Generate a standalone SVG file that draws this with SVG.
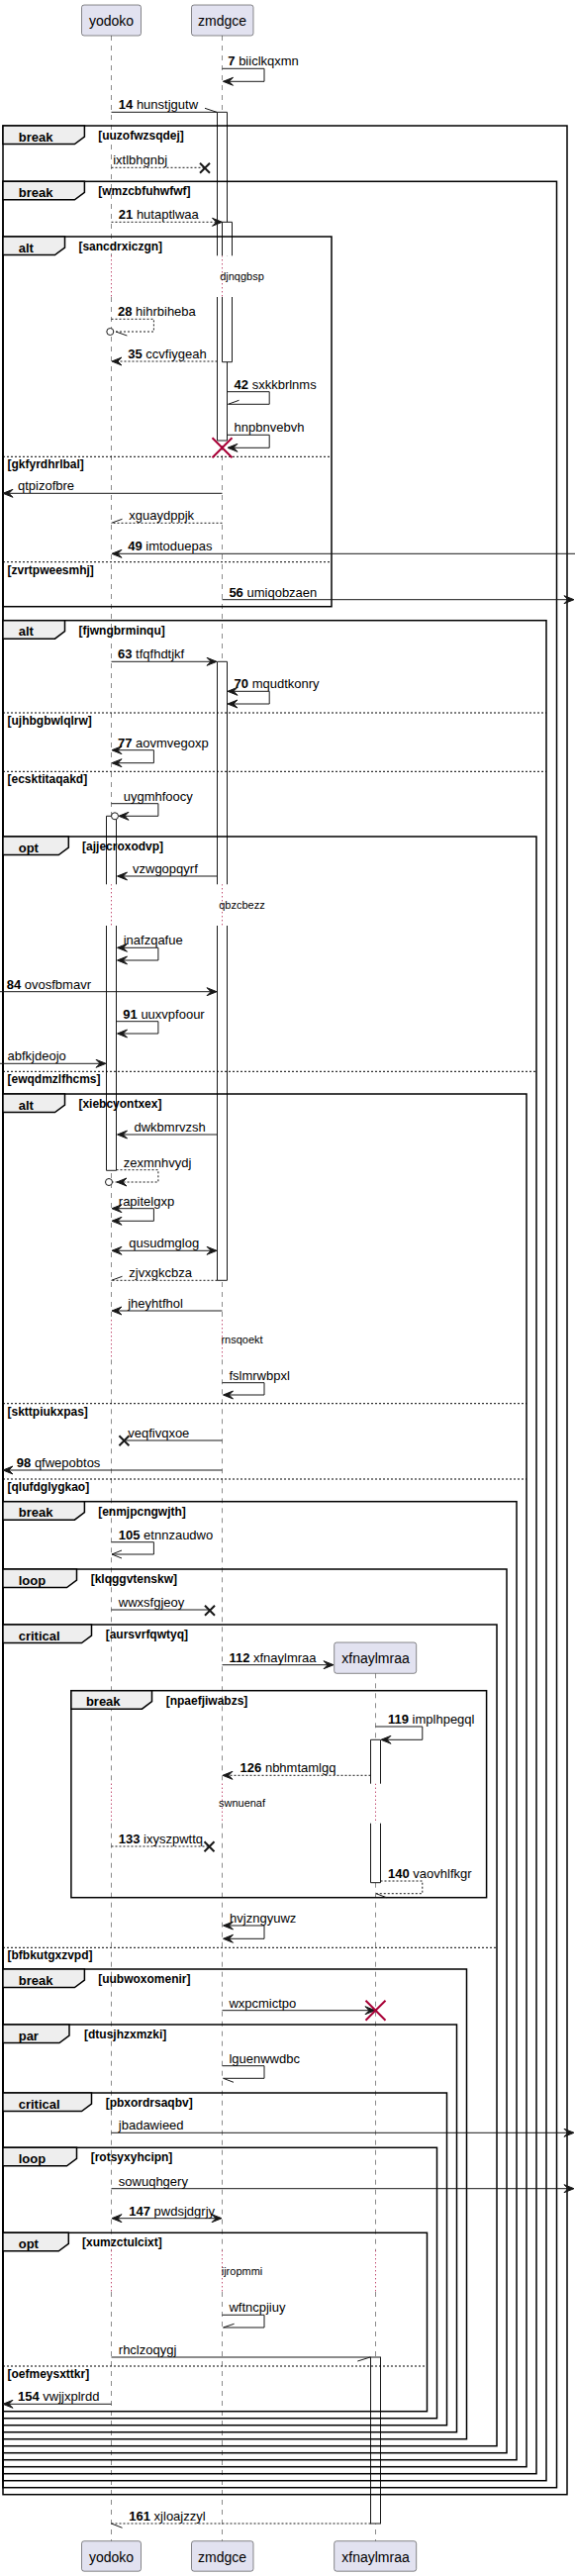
<svg xmlns="http://www.w3.org/2000/svg" width="581" height="2602" viewBox="0 0 581 2602">
<style>
text{font-family:"Liberation Sans",Arial,sans-serif;fill:#000}
.pt{font-size:14px}
.m{font-size:13px}
.lb{font-size:13px;font-weight:bold}
.cd{font-size:12px;font-weight:bold}
.dt{font-size:11px}
.pbox{fill:#E2E2F0;stroke:#181818;stroke-width:0.5}
.ll{stroke:#181818;stroke-width:0.5;stroke-dasharray:5,5;fill:none}
.dl{stroke:#A80036;stroke-width:1;stroke-dasharray:1,3;fill:none}
.af{fill:#fff;stroke:none}
.ae{fill:none;stroke:#181818;stroke-width:1}
.ab{fill:#fff;stroke:#181818;stroke-width:1}
.frm{fill:none;stroke:#000;stroke-width:1.5}
.tab{fill:#EEEEEE;stroke:#000;stroke-width:1.5}
.sep{stroke:#000;stroke-width:1;stroke-dasharray:2,2;fill:none}
.ln{stroke:#181818;stroke-width:1;fill:none}
.ds{stroke-dasharray:2,2}
.ah{fill:#181818;stroke:#181818;stroke-width:1}
.hl{stroke:#181818;stroke-width:1;fill:none}
.xb{stroke:#181818;stroke-width:2;fill:none}
.xr{stroke:#A80036;stroke-width:2;fill:none}
</style>
<defs>
<polygon id="aR" class="ah" points="0,0 -10,-4 -6,0 -10,4"/>
<polygon id="aL" class="ah" points="0,0 10,-4 6,0 10,4"/>
<polyline id="oL" class="hl" points="10,-4 0,0 10,4"/>
<path id="xB" class="xb" d="M-5,-5 L5,5 M-5,5 L5,-5"/>
<path id="xR" class="xr" d="M-10,-10 L10,10 M-10,10 L10,-10"/>
<circle id="ci" r="3.5" fill="#fff" stroke="#181818" stroke-width="1"/>
</defs>

<g id="lifelines">
<path class="ll" d="M112.5,36 V258.3 M112.5,300 V893.3 M112.5,935 V1333.3 M112.5,1373.3 V1801.7 M112.5,1841.7 V2273.3 M112.5,2315 V2566.7"/>
<path class="ll" d="M224.5,36 V258.3 M224.5,300 V893.3 M224.5,935 V1333.3 M224.5,1373.3 V1801.7 M224.5,1841.7 V2273.3 M224.5,2315 V2566.7"/>
<path class="ll" d="M379.5,1690.3 V1801.7 M379.5,1841.7 V2273.3 M379.5,2315 V2566.7"/>
<path class="dl" d="M112.5,258.3 V300 M224.5,258.3 V300 M112.5,893.3 V935 M224.5,893.3 V935 M112.5,1333.3 V1373.3 M224.5,1333.3 V1373.3 M112.5,1801.7 V1841.7 M224.5,1801.7 V1841.7 M379.5,1801.7 V1841.7 M112.5,2273.3 V2315 M224.5,2273.3 V2315 M379.5,2273.3 V2315"/>
</g>

<g id="activations">
<rect class="af" x="219.5" y="113.3" width="10" height="145"/><path class="ae" d="M219.5,258.3 V113.3 H229.5 V258.3"/>
<rect class="af" x="219.5" y="300" width="10" height="145"/><path class="ae" d="M219.5,300 V445 H229.5 V300"/>
<rect class="af" x="224.5" y="224.3" width="10" height="34"/><path class="ae" d="M224.5,258.3 V224.3 H234.5 V258.3"/>
<rect class="af" x="224.5" y="300" width="10" height="65.7"/><path class="ae" d="M224.5,300 V365.7 H234.5 V300"/>
<rect class="af" x="219.5" y="668.3" width="10" height="225"/><path class="ae" d="M219.5,893.3 V668.3 H229.5 V893.3"/>
<rect class="af" x="219.5" y="935" width="10" height="358.3"/><path class="ae" d="M219.5,935 V1293.3 H229.5 V935"/>
<rect class="af" x="107.5" y="824.3" width="10" height="69"/><path class="ae" d="M107.5,893.3 V824.3 H117.5 V893.3"/>
<rect class="af" x="107.5" y="935" width="10" height="247.3"/><path class="ae" d="M107.5,935 V1182.3 H117.5 V935"/>
<rect class="af" x="374.5" y="1757.3" width="10" height="44.4"/><path class="ae" d="M374.5,1801.7 V1757.3 H384.5 V1801.7"/>
<rect class="af" x="374.5" y="1841.7" width="10" height="60"/><path class="ae" d="M374.5,1841.7 V1901.7 H384.5 V1841.7"/>
<rect class="ab" x="374.5" y="2381" width="10" height="168"/>
</g>

<g id="participants">
<g id="p-yodoko-top"><rect class="pbox" x="82.5" y="5" width="60" height="31" rx="2.5"/><text class="pt" x="112.5" y="26" text-anchor="middle">yodoko</text></g>
<g id="p-zmdgce-top"><rect class="pbox" x="193.5" y="5" width="62.5" height="31" rx="2.5"/><text class="pt" x="224.5" y="26" text-anchor="middle">zmdgce</text></g>
<g id="p-xfnaylmraa"><rect class="pbox" x="337.7" y="1659" width="83" height="31.3" rx="2.5"/><text class="pt" x="379.5" y="1680" text-anchor="middle">xfnaylmraa</text></g>
<g id="p-yodoko-bot"><rect class="pbox" x="82.5" y="2566.7" width="60" height="30.5" rx="2.5"/><text class="pt" x="112.5" y="2587.5" text-anchor="middle">yodoko</text></g>
<g id="p-zmdgce-bot"><rect class="pbox" x="193.5" y="2566.7" width="62.5" height="30.5" rx="2.5"/><text class="pt" x="224.5" y="2587.5" text-anchor="middle">zmdgce</text></g>
<g id="p-xfnaylmraa-bot"><rect class="pbox" x="337.7" y="2566.7" width="83" height="30.5" rx="2.5"/><text class="pt" x="379.5" y="2587.5" text-anchor="middle">xfnaylmraa</text></g>
</g>

<g id="frames">
<g id="f1"><rect class="frm" x="3" y="127" width="570" height="2392.7"/><polygon class="tab" points="3,127 85.4,127 85.4,138 75.4,145.5 3,145.5"/><text class="lb" x="18.7" y="142.5">break</text><text class="cd" x="99.2" y="141">[uuzofwzsqdej]</text></g>
<g id="f2"><rect class="frm" x="3" y="183.3" width="559.5" height="2329.4"/><polygon class="tab" points="3,183.3 85.4,183.3 85.4,194.3 75.4,201.8 3,201.8"/><text class="lb" x="18.7" y="198.8">break</text><text class="cd" x="99.2" y="197.3">[wmzcbfuhwfwf]</text></g>
<g id="f3"><rect class="frm" x="3" y="239" width="332" height="373.7"/><polygon class="tab" points="3,239 65.5,239 65.5,250 55.5,257.5 3,257.5"/><text class="lb" x="18.7" y="254.5">alt</text><text class="cd" x="79.4" y="253">[sancdrxiczgn]</text>
<line class="sep" x1="3" y1="461.3" x2="335" y2="461.3"/><text class="cd" x="7.5" y="473.3">[gkfyrdhrlbal]</text>
<line class="sep" x1="3" y1="567.7" x2="335" y2="567.7"/><text class="cd" x="7.5" y="579.7">[zvrtpweesmhj]</text></g>
<g id="f4"><rect class="frm" x="3" y="626.7" width="549" height="1879"/><polygon class="tab" points="3,626.7 65.5,626.7 65.5,637.7 55.5,645.2 3,645.2"/><text class="lb" x="18.7" y="642.2">alt</text><text class="cd" x="79.4" y="640.7">[fjwngbrminqu]</text>
<line class="sep" x1="3" y1="720" x2="552" y2="720"/><text class="cd" x="7.5" y="732">[ujhbgbwlqlrw]</text>
<line class="sep" x1="3" y1="779.3" x2="552" y2="779.3"/><text class="cd" x="7.5" y="791.3">[ecsktitaqakd]</text></g>
<g id="f5"><rect class="frm" x="3" y="845" width="539" height="1653.7"/><polygon class="tab" points="3,845 69.3,845 69.3,856 59.3,863.5 3,863.5"/><text class="lb" x="18.7" y="860.5">opt</text><text class="cd" x="83.1" y="859">[ajjecroxodvp]</text>
<line class="sep" x1="3" y1="1082.3" x2="542" y2="1082.3"/><text class="cd" x="7.5" y="1094.3">[ewqdmzlfhcms]</text></g>
<g id="f6"><rect class="frm" x="3" y="1105" width="529" height="1386.7"/><polygon class="tab" points="3,1105 65.5,1105 65.5,1116 55.5,1123.5 3,1123.5"/><text class="lb" x="18.7" y="1120.5">alt</text><text class="cd" x="79.4" y="1119">[xiebcyontxex]</text>
<line class="sep" x1="3" y1="1417.7" x2="532" y2="1417.7"/><text class="cd" x="7.5" y="1429.7">[skttpiukxpas]</text>
<line class="sep" x1="3" y1="1494" x2="532" y2="1494"/><text class="cd" x="7.5" y="1506">[qlufdglygkao]</text></g>
<g id="f7"><rect class="frm" x="3" y="1516.7" width="519" height="968"/><polygon class="tab" points="3,1516.7 85.4,1516.7 85.4,1527.7 75.4,1535.2 3,1535.2"/><text class="lb" x="18.7" y="1532.2">break</text><text class="cd" x="99.2" y="1530.7">[enmjpcngwjth]</text></g>
<g id="f8"><rect class="frm" x="3" y="1585" width="509" height="892.7"/><polygon class="tab" points="3,1585 77.5,1585 77.5,1596 67.5,1603.5 3,1603.5"/><text class="lb" x="18.7" y="1600.5">loop</text><text class="cd" x="91.7" y="1599">[klqggvtenskw]</text></g>
<g id="f9"><rect class="frm" x="3" y="1641" width="499" height="829.7"/><polygon class="tab" points="3,1641 92.5,1641 92.5,1652 82.5,1659.5 3,1659.5"/><text class="lb" x="18.7" y="1656.5">critical</text><text class="cd" x="106.7" y="1655">[aursvrfqwtyq]</text>
<line class="sep" x1="3" y1="1967.3" x2="502" y2="1967.3"/><text class="cd" x="7.5" y="1979.3">[bfbkutgxzvpd]</text></g>
<g id="f10"><rect class="frm" x="71.9" y="1707.7" width="419.7" height="209"/><polygon class="tab" points="71.9,1707.7 153.5,1707.7 153.5,1718.7 143.5,1726.2 71.9,1726.2"/><text class="lb" x="86.9" y="1723.2">break</text><text class="cd" x="167.7" y="1721.7">[npaefjiwabzs]</text></g>
<g id="f11"><rect class="frm" x="3" y="1989" width="468.5" height="474.7"/><polygon class="tab" points="3,1989 85.4,1989 85.4,2000 75.4,2007.5 3,2007.5"/><text class="lb" x="18.7" y="2004.5">break</text><text class="cd" x="99.2" y="2003">[uubwoxomenir]</text></g>
<g id="f12"><rect class="frm" x="3" y="2045" width="458.5" height="411.7"/><polygon class="tab" points="3,2045 70,2045 70,2056 60,2063.5 3,2063.5"/><text class="lb" x="18.7" y="2060.5">par</text><text class="cd" x="85" y="2059">[dtusjhzxmzki]</text></g>
<g id="f13"><rect class="frm" x="3" y="2114" width="448.5" height="335.7"/><polygon class="tab" points="3,2114 92.5,2114 92.5,2125 82.5,2132.5 3,2132.5"/><text class="lb" x="18.7" y="2129.5">critical</text><text class="cd" x="106.7" y="2128">[pbxordrsaqbv]</text></g>
<g id="f14"><rect class="frm" x="3" y="2169.3" width="438.5" height="273.4"/><polygon class="tab" points="3,2169.3 77.5,2169.3 77.5,2180.3 67.5,2187.8 3,2187.8"/><text class="lb" x="18.7" y="2184.8">loop</text><text class="cd" x="91.7" y="2183.3">[rotsyxyhcipn]</text></g>
<g id="f15"><rect class="frm" x="3" y="2255.3" width="428.5" height="180.4"/><polygon class="tab" points="3,2255.3 69.3,2255.3 69.3,2266.3 59.3,2273.8 3,2273.8"/><text class="lb" x="18.7" y="2270.8">opt</text><text class="cd" x="83.1" y="2269.3">[xumzctulcixt]</text>
<line class="sep" x1="3" y1="2390" x2="431.5" y2="2390"/><text class="cd" x="7.5" y="2402">[oefmeysxttkr]</text></g>
</g>

<g id="delays">
<text class="dt" x="244.5" y="282.7" text-anchor="middle">djnqgbsp</text>
<text class="dt" x="244.5" y="917.7" text-anchor="middle">qbzcbezz</text>
<text class="dt" x="244.5" y="1356.8" text-anchor="middle">rnsqoekt</text>
<text class="dt" x="244.5" y="1825.2" text-anchor="middle">swnuenaf</text>
<text class="dt" x="244.5" y="2297.7" text-anchor="middle">ijropmmi</text>
</g>

<g id="connectors">
<path class="ln" d="M224.5,69.3 H267 V82.3 H225.5"/><use href="#aL" x="225.5" y="82.3"/>
<line class="ln" x1="112.5" y1="113.3" x2="219.5" y2="113.3"/><line class="hl" x1="219" y1="113.3" x2="207" y2="109.3"/>
<line class="ln ds" x1="112.5" y1="169.3" x2="207" y2="169.3"/><use href="#xB" x="207" y="169.8"/>
<line class="ln ds" x1="112.5" y1="224.3" x2="224" y2="224.3"/><use href="#aR" x="224.5" y="224.3"/>
<path class="ln ds" d="M112.5,322.3 H155.4 V335 H115"/><line class="hl" x1="117" y1="335" x2="128.4" y2="339"/><use href="#ci" x="111.3" y="335"/>
<line class="ln ds" x1="219.5" y1="365" x2="114" y2="365"/><use href="#aL" x="113" y="365"/>
<path class="ln" d="M229.5,395.7 H272.2 V408.3 H230.5"/><line class="hl" x1="230.5" y1="408.3" x2="241.5" y2="404.3"/>
<path class="ln" d="M229.5,439.3 H272.2 V452.3 H231"/><use href="#aL" x="230" y="452.3"/>
<use href="#xR" x="224.5" y="452.3"/>
<line class="ln" x1="224.5" y1="498.3" x2="4" y2="498.3"/><use href="#aL" x="3" y="498.3"/>
<line class="ln ds" x1="224.5" y1="528.3" x2="112.5" y2="528.3"/><line class="hl" x1="112.5" y1="528.3" x2="123.5" y2="524.3"/>
<line class="ln" x1="581" y1="559.3" x2="114" y2="559.3"/><use href="#aL" x="113" y="559.3"/>
<line class="ln" x1="224.5" y1="605.7" x2="579" y2="605.7"/><use href="#aR" x="580" y="605.7"/>
<line class="ln" x1="112.5" y1="668.3" x2="218" y2="668.3"/><use href="#aR" x="219" y="668.3"/>
<path class="ln" d="M231,698.3 H272.2 V711 H231"/><use href="#aL" x="230" y="698.3"/><use href="#aL" x="230" y="711"/>
<path class="ln" d="M114,757.7 H155.4 V770.7 H114"/><use href="#aL" x="113" y="757.7"/><use href="#aL" x="113" y="770.7"/>
<path class="ln" d="M112.5,811.7 H159.9 V824.3 H121"/><use href="#aL" x="120" y="824.3"/><use href="#ci" x="116" y="824.3"/>
<line class="ln" x1="219.5" y1="885" x2="119.5" y2="885"/><use href="#aL" x="118.5" y="885"/>
<path class="ln" d="M119.5,957.3 H159.9 V970 H119.5"/><use href="#aL" x="118.5" y="957.3"/><use href="#aL" x="118.5" y="970"/>
<line class="ln" x1="0" y1="1001.7" x2="218" y2="1001.7"/><use href="#aR" x="219" y="1001.7"/>
<path class="ln" d="M117.5,1031.7 H159.9 V1044 H119.5"/><use href="#aL" x="118.5" y="1044"/>
<line class="ln" x1="0" y1="1074.3" x2="106" y2="1074.3"/><use href="#aR" x="107" y="1074.3"/>
<line class="ln" x1="219.5" y1="1146" x2="119.5" y2="1146"/><use href="#aL" x="118.5" y="1146"/>
<path class="ln ds" d="M117.5,1181.7 H159.9 V1194 H113.5"/><use href="#aL" x="118" y="1194"/><use href="#ci" x="110" y="1194"/>
<path class="ln" d="M114,1220.7 H155.4 V1233.3 H114"/><use href="#aL" x="113" y="1220.7"/><use href="#aL" x="113" y="1233.3"/>
<line class="ln" x1="114" y1="1263.3" x2="218" y2="1263.3"/><use href="#aL" x="113" y="1263.3"/><use href="#aR" x="219" y="1263.3"/>
<line class="ln ds" x1="219.5" y1="1293.3" x2="112.5" y2="1293.3"/><line class="hl" x1="112.5" y1="1293.3" x2="123.5" y2="1289.3"/>
<line class="ln" x1="224.5" y1="1324" x2="114" y2="1324"/><use href="#aL" x="113" y="1324"/>
<path class="ln" d="M224.5,1396.7 H267 V1409 H226.5"/><use href="#aL" x="225.5" y="1409"/>
<line class="ln" x1="224.5" y1="1455" x2="125.5" y2="1455"/><use href="#xB" x="125.4" y="1455.3"/>
<line class="ln" x1="224.5" y1="1485" x2="4" y2="1485"/><use href="#aL" x="3" y="1485"/>
<path class="ln" d="M112.5,1557.7 H155.4 V1570 H113"/><use href="#oL" x="113" y="1570"/>
<line class="ln" x1="112.5" y1="1626" x2="211.5" y2="1626"/><use href="#xB" x="212" y="1626.7"/>
<line class="ln" x1="224.5" y1="1681.7" x2="336" y2="1681.7"/><use href="#aR" x="337" y="1681.7"/>
<path class="ln" d="M379.5,1744 H426.8 V1757.3 H386"/><use href="#aL" x="385" y="1757.3"/>
<line class="ln ds" x1="374.5" y1="1793.3" x2="226" y2="1793.3"/><use href="#aL" x="225" y="1793.3"/>
<line class="ln ds" x1="112.5" y1="1865" x2="211.5" y2="1865"/><use href="#xB" x="211.5" y="1865.3"/>
<path class="ln ds" d="M384.5,1900 H426.8 V1912.7 H380"/><line class="hl" x1="380" y1="1912.7" x2="390.5" y2="1916.7"/>
<path class="ln" d="M226.5,1945 H267 V1958.3 H226.5"/><use href="#aL" x="225.5" y="1945"/><use href="#aL" x="225.5" y="1958.3"/>
<line class="ln" x1="224.5" y1="2030.7" x2="378" y2="2030.7"/><use href="#aR" x="379" y="2030.7"/><use href="#xR" x="379.5" y="2030.7"/>
<path class="ln" d="M224.5,2086.7 H267 V2099.3 H225.5"/><line class="hl" x1="225.5" y1="2099.3" x2="236" y2="2103.3"/>
<line class="ln" x1="112.5" y1="2154.3" x2="579" y2="2154.3"/><use href="#aR" x="580" y="2154.3"/>
<line class="ln" x1="112.5" y1="2210.7" x2="579" y2="2210.7"/><use href="#aR" x="580" y="2210.7"/>
<line class="ln" x1="114" y1="2240.7" x2="223" y2="2240.7"/><use href="#aL" x="113" y="2240.7"/><use href="#aR" x="224" y="2240.7"/>
<path class="ln" d="M224.5,2338.3 H267 V2351 H225.5"/><line class="hl" x1="225.5" y1="2351" x2="236.6" y2="2347.3"/>
<line class="ln" x1="112.5" y1="2381" x2="374.5" y2="2381"/><line class="hl" x1="374" y1="2381" x2="361.3" y2="2385"/>
<line class="ln" x1="112.5" y1="2428.3" x2="4" y2="2428.3"/><use href="#aL" x="3" y="2428.3"/>
<line class="ln ds" x1="374.5" y1="2549" x2="112.5" y2="2549"/><line class="hl" x1="112.5" y1="2549" x2="123.5" y2="2553.3"/>
</g>

<g id="labels">
<text class="m" x="230.3" y="66.3"><tspan font-weight="bold">7</tspan> biiclkqxmn</text>
<text class="m" x="119.8" y="110.3"><tspan font-weight="bold">14</tspan> hunstjgutw</text>
<text class="m" x="114.2" y="166.3">ixtlbhgnbj</text>
<text class="m" x="119.8" y="221.3"><tspan font-weight="bold">21</tspan> hutaptlwaa</text>
<text class="m" x="119" y="319.3"><tspan font-weight="bold">28</tspan> hihrbiheba</text>
<text class="m" x="129.2" y="362"><tspan font-weight="bold">35</tspan> ccvfiygeah</text>
<text class="m" x="236.6" y="392.7"><tspan font-weight="bold">42</tspan> sxkkbrlnms</text>
<text class="m" x="236.6" y="436.3">hnpbnvebvh</text>
<text class="m" x="18" y="495.3">qtpizofbre</text>
<text class="m" x="130.3" y="525.3">xguaydppjk</text>
<text class="m" x="129.2" y="556.3"><tspan font-weight="bold">49</tspan> imtoduepas</text>
<text class="m" x="231.4" y="602.7"><tspan font-weight="bold">56</tspan> umiqobzaen</text>
<text class="m" x="119" y="665.3"><tspan font-weight="bold">63</tspan> tfqfhdtjkf</text>
<text class="m" x="236.6" y="695.3"><tspan font-weight="bold">70</tspan> mqudtkonry</text>
<text class="m" x="119" y="754.7"><tspan font-weight="bold">77</tspan> aovmvegoxp</text>
<text class="m" x="124.7" y="808.7">uygmhfoocy</text>
<text class="m" x="134" y="882">vzwgopqyrf</text>
<text class="m" x="124.7" y="954.3">inafzqafue</text>
<text class="m" x="6.7" y="998.7"><tspan font-weight="bold">84</tspan> ovosfbmavr</text>
<text class="m" x="124.3" y="1028.7"><tspan font-weight="bold">91</tspan> uuxvpfoour</text>
<text class="m" x="7.5" y="1071.3">abfkjdeojo</text>
<text class="m" x="135.5" y="1143">dwkbmrvzsh</text>
<text class="m" x="124.7" y="1178.7">zexmnhvydj</text>
<text class="m" x="119.8" y="1217.7">rapitelgxp</text>
<text class="m" x="130.3" y="1260.3">qusudmglog</text>
<text class="m" x="130.3" y="1290.3">zjvxgkcbza</text>
<text class="m" x="129.2" y="1321">jheyhtfhol</text>
<text class="m" x="231.4" y="1393.7">fslmrwbpxl</text>
<text class="m" x="129.2" y="1452">veqfivqxoe</text>
<text class="m" x="16.8" y="1482"><tspan font-weight="bold">98</tspan> qfwepobtos</text>
<text class="m" x="119.8" y="1554.7"><tspan font-weight="bold">105</tspan> etnnzaudwo</text>
<text class="m" x="119.8" y="1623">wwxsfgjeoy</text>
<text class="m" x="231.4" y="1678.7"><tspan font-weight="bold">112</tspan> xfnaylmraa</text>
<text class="m" x="392" y="1741"><tspan font-weight="bold">119</tspan> implhpegql</text>
<text class="m" x="242.6" y="1790.3"><tspan font-weight="bold">126</tspan> nbhmtamlgq</text>
<text class="m" x="119.8" y="1862"><tspan font-weight="bold">133</tspan> ixyszpwttq</text>
<text class="m" x="392" y="1897"><tspan font-weight="bold">140</tspan> vaovhlfkgr</text>
<text class="m" x="232.1" y="1942">hvjzngyuwz</text>
<text class="m" x="231.4" y="2027.7">wxpcmictpo</text>
<text class="m" x="231.4" y="2083.7">lguenwwdbc</text>
<text class="m" x="119.8" y="2151.3">jbadawieed</text>
<text class="m" x="119.8" y="2207.7">sowuqhgery</text>
<text class="m" x="130.3" y="2237.7"><tspan font-weight="bold">147</tspan> pwdsjdgrjy</text>
<text class="m" x="231.4" y="2335.3">wftncpjiuy</text>
<text class="m" x="119.8" y="2378">rhclzoqygj</text>
<text class="m" x="18" y="2425.3"><tspan font-weight="bold">154</tspan> vwjjxplrdd</text>
<text class="m" x="130.3" y="2546"><tspan font-weight="bold">161</tspan> xjloajzzyl</text>
</g>
</svg>
